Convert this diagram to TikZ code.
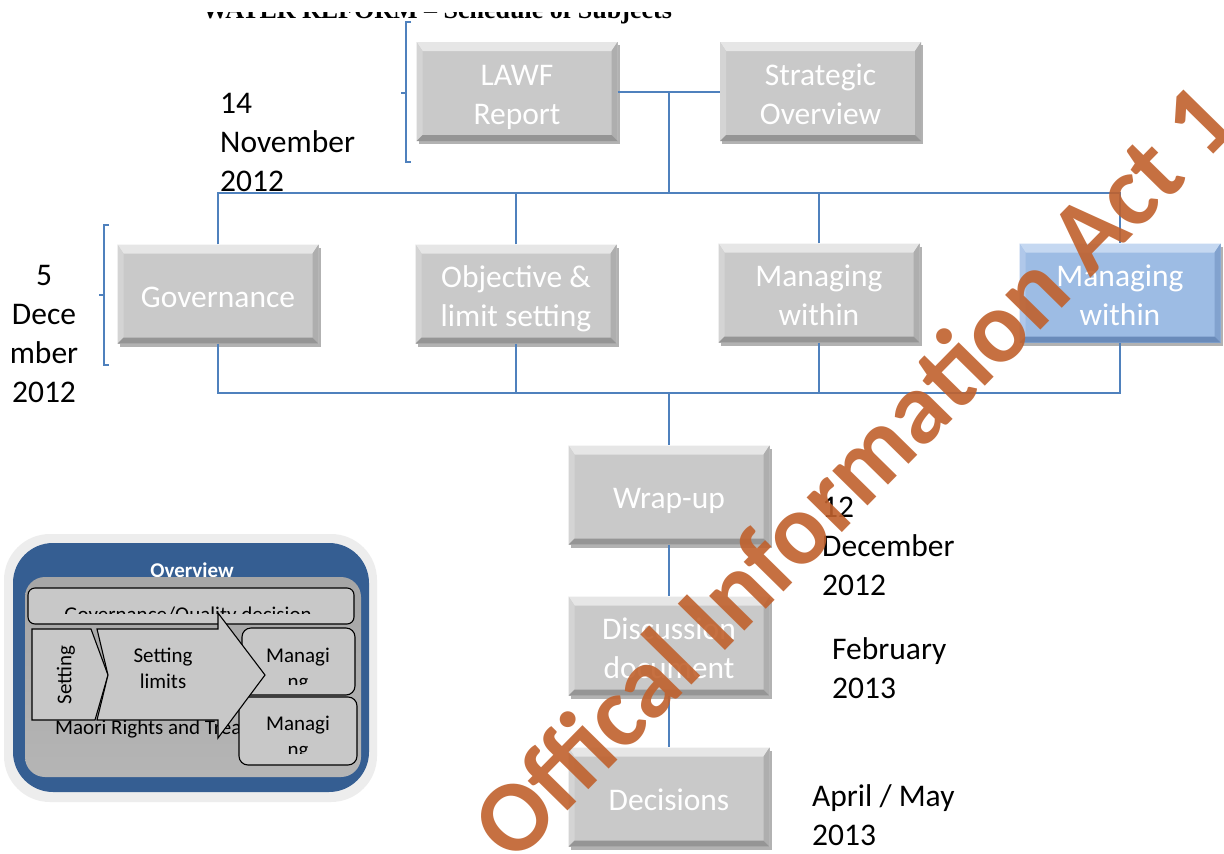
\documentclass[tikz,border=0pt]{standalone}
\usepackage{fontspec}
\setmainfont{Carlito}
\newfontfamily\titlefont{Liberation Serif}
\usetikzlibrary{calc,shadows}

\definecolor{linkblue}{HTML}{4F81BD}
\definecolor{greyface}{HTML}{C9C9C9}
\definecolor{greytop}{HTML}{E6E6E6}
\definecolor{greyleft}{HTML}{D4D4D4}
\definecolor{greyright}{HTML}{AEAEAE}
\definecolor{greybottom}{HTML}{959595}
\definecolor{blueface}{HTML}{9DBCE4}
\definecolor{bluetop}{HTML}{C5D8F1}
\definecolor{blueleft}{HTML}{B0C8EA}
\definecolor{blueright}{HTML}{82A2CE}
\definecolor{bluebottom}{HTML}{6A8BBA}
\definecolor{panelblue}{HTML}{355E92}
\definecolor{panelhalo}{HTML}{EDEDED}
\definecolor{innerfill}{HTML}{C8C8C8}
\definecolor{stampred}{HTML}{C0612D}

\tikzset{
  bevelbox/.style n args={5}{
    fill=#1, inner sep=0pt, minimum width=201, minimum height=99,
    align=center, text=white, font=\fontsize{31.5}{39}\selectfont,
    text height=65pt, text depth=0pt,
    drop shadow={shadow xshift=2pt, shadow yshift=-3pt, opacity=0.3, fill=black},
    path picture={
      \coordinate (bvnw) at (path picture bounding box.north west);
      \coordinate (bvse) at (path picture bounding box.south east);
      \coordinate (bvne) at (bvnw -| bvse);
      \coordinate (bvsw) at (bvse -| bvnw);
      \fill[#2] (bvnw) -- (bvne) -- ($(bvne)+(-6,9)$) -- ($(bvnw)+(6,9)$) -- cycle;
      \fill[#3] (bvnw) -- ($(bvnw)+(6,9)$) -- ($(bvsw)+(6,-6)$) -- (bvsw) -- cycle;
      \fill[#4] (bvne) -- ($(bvne)+(-6,9)$) -- ($(bvse)+(-6,-6)$) -- (bvse) -- cycle;
      \fill[#5] (bvsw) -- (bvse) -- ($(bvse)+(-6,-6)$) -- ($(bvsw)+(6,-6)$) -- cycle;
    }
  },
  greybox/.style={bevelbox={greyface}{greytop}{greyleft}{greyright}{greybottom}},
  bluebox/.style={bevelbox={blueface}{bluetop}{blueleft}{blueright}{bluebottom}},
  oneline/.style={text height=26pt},
  link/.style={draw=linkblue, line width=2pt},
  brace/.style={draw=linkblue, line width=1.6pt},
  datetext/.style={inner sep=0pt, align=left, text=black, font=\fontsize{31.5}{39}\selectfont},
  inset/.style={draw=black, line width=1.1pt, fill=innerfill},
  insettext/.style={inner sep=0pt, text=black, font=\fontsize{21}{26}\selectfont},
}

\begin{document}
\begin{tikzpicture}[x=1pt,y=-1pt]
\useasboundingbox (0,0) rectangle (1224,854);
\clip (0,0) rectangle (1224,854);
\fill[white] (0,0) rectangle (1224,854);

% page heading, only its lower edge is left on the sheet
\begin{scope}
  \clip (0,12) rectangle (1224,40);
  \node[anchor=base west, inner sep=0pt, text=black,
        font=\titlefont\bfseries\fontsize{26}{30}\selectfont] (title) at (202,18)
        {WATER REFORM – Schedule of Subjects};
\end{scope}

% schedule boxes
\node[greybox] (lawf)  at (517,91.5)  {LAWF\\Report};
\node[greybox] (strat) at (820.5,91.5) {Strategic\\Overview};
\node[greybox, oneline] (gov) at (218,294) {Governance};
\node[greybox] (obj)   at (516,294)  {Objective \&\\limit setting};
\node[greybox] (mw1)   at (819,293)  {Managing\\within};
\node[bluebox] (mw2)   at (1120,293) {Managing\\within};
\node[greybox, oneline] (wrap) at (669,495) {Wrap-up};
\node[greybox] (disc)  at (669,646)  {Discussion\\document};
\node[greybox, oneline] (dec) at (669,797) {Decisions};

% connectors
\coordinate (hubtop) at (669,193);
\coordinate (hubbot) at (669,393);
\draw[link] (lawf.east) -- (strat.west);
\draw[link] (lawf.east -| hubtop) -- (hubtop);
\draw[link] (gov.north) -- (gov.north |- hubtop) -- (mw2.north |- hubtop) -- (mw2.north);
\draw[link] (obj.north) -- (obj.north |- hubtop);
\draw[link] (mw1.north) -- (mw1.north |- hubtop);
\draw[link] (gov.south) -- (gov.south |- hubbot) -- (mw2.south |- hubbot) -- (mw2.south);
\draw[link] (obj.south) -- (obj.south |- hubbot);
\draw[link] (mw1.south) -- (mw1.south |- hubbot);
\draw[link] (hubbot) -- (wrap.north);
\draw[link] (wrap.south) -- (disc.north);
\draw[link] (disc.south) -- (dec.north);

% brackets grouping each date with its row
\draw[brace] (411,22) -- (406,22) -- (406,162) -- (411,162);
\draw[brace] (406,93) -- (401,93);
\draw[brace] (109,225) -- (104,225) -- (104,365) -- (109,365);
\draw[brace] (104,295) -- (99,295);

% dates
\node[datetext, anchor=west] (date1) at (220,142) {14\\November\\2012};
\node[datetext, align=center] (date2) at (44,334) {5\\Dece\\mber\\2012};
\node[datetext, anchor=west] (date3) at (822,546) {12\\December\\2012};
\node[datetext, anchor=west] (date4) at (832,668) {February\\2013};
\node[datetext, anchor=west] (date5) at (812,815) {April / May\\2013};

% overview thumbnail
\fill[panelhalo, rounded corners=46] (4,534) rectangle (377,802);
\fill[panelblue, rounded corners=40] (13,543) rectangle (369,792);
\node[anchor=base, inner sep=0pt, text=white,
      font=\bfseries\fontsize{21}{25}\selectfont] (ovtitle) at (192,577) {Overview};
\shade[top color=black!35, bottom color=black!29, rounded corners=20]
      (25,577) rectangle (361,777);

\draw[inset, rounded corners=7] (28,588) rectangle (354,624);
\begin{scope}
  \clip (28,588) rectangle (354,613);
  \node[insettext, anchor=base] (gqtext) at (188,621) {Governance/Quality decision};
\end{scope}

\node[insettext, anchor=base west] (maori) at (55,734) {Maori Rights and Treaty};

\draw[inset, rounded corners=9] (242,628) rectangle (355,695);
\begin{scope}
  \clip (242,628) rectangle (355,684);
  \node[insettext, align=center] (man1) at (298,670) {Managi\\ng};
\end{scope}
\draw[inset, rounded corners=9] (239,697) rectangle (357,765);
\begin{scope}
  \clip (239,697) rectangle (357,753);
  \node[insettext, align=center] (man2) at (298,738) {Managi\\ng};
\end{scope}

\draw[inset] (32,629) -- (91,629) -- (108,675) -- (95,720) -- (32,720) -- cycle;
\node[insettext, rotate=90] (setv) at (66,675) {Setting};

\draw[inset] (97,629) -- (218,629) -- (218,613) -- (265,675) -- (218,738)
      -- (218,720) -- (97,720) -- (108,675) -- cycle;
\node[insettext, align=center] (setlim) at (163,668) {Setting\\limits};

% release stamp across the sheet
\node[rotate=45.5, anchor=base west, inner sep=0pt, text=stampred, opacity=0.9,
      font=\bfseries\fontsize{102}{102}\selectfont] (stamp) at (514,866)
      {Offical Information Act 1};
\end{tikzpicture}
\end{document}
